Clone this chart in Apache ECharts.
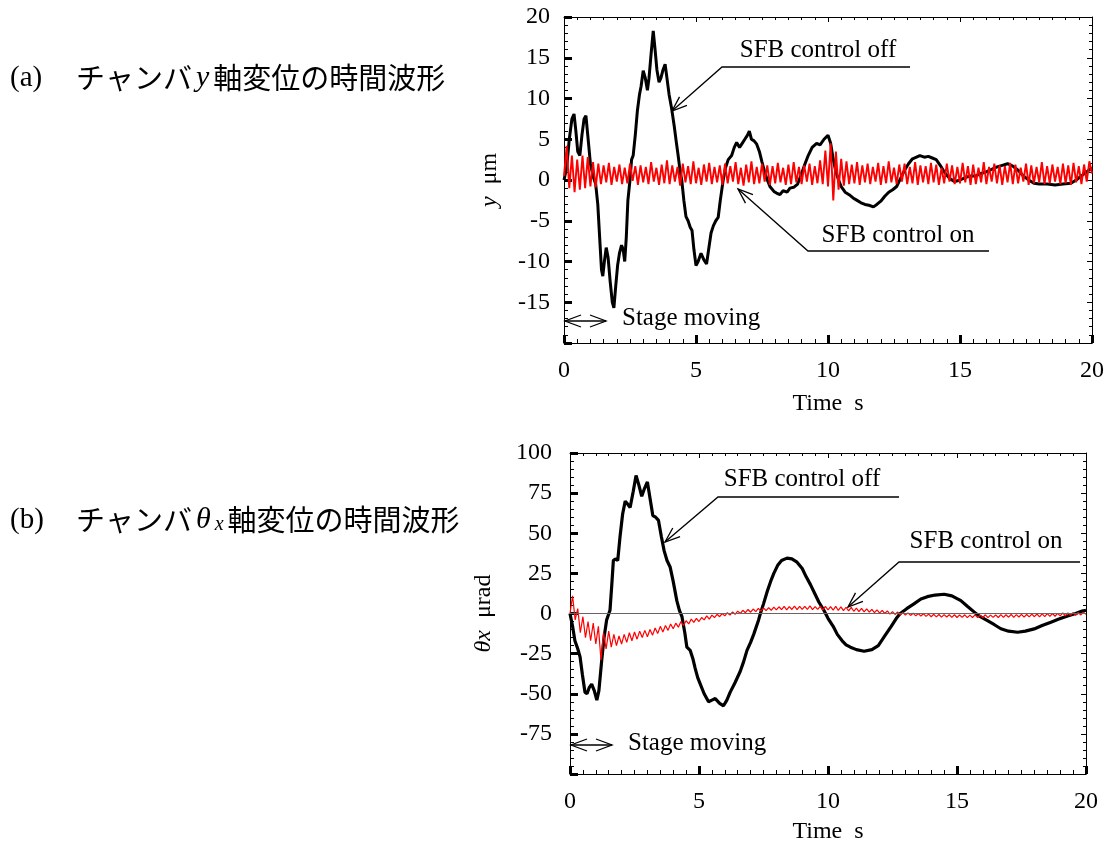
<!DOCTYPE html>
<html>
<head>
<meta charset="utf-8">
<script src="https://cdn.jsdelivr.net/npm/echarts@6/dist/echarts.min.js"></script>
<style>
  html, body { margin: 0; padding: 0; background: #fff; }
  #chart { width: 1104px; height: 844px; }
</style>
</head>
<body>
<div id="chart"></div>
<script>
// ---------- (a) chamber y displacement, µm ----------
// SFB control off: sample times (s) and displacement (µm)
const yOffT = [0.00,0.10,0.20,0.30,0.38,0.45,0.52,0.60,0.68,0.76,0.83,0.90,1.00,1.10,1.20,1.28,1.35,1.42,1.47,1.53,
  1.60,1.67,1.75,1.83,1.89,1.96,2.03,2.10,2.18,2.24,2.30,2.36,2.42,2.50,2.56,2.62,2.70,2.78,2.86,2.92,
  3.00,3.08,3.16,3.22,3.30,3.38,3.45,3.52,3.60,3.67,3.75,3.83,3.90,3.98,4.08,4.18,4.26,4.34,4.40,4.46,
  4.54,4.62,4.70,4.78,4.85,4.92,5.00,5.08,5.19,5.30,5.40,5.48,5.57,5.66,5.75,5.84,5.92,6.03,6.12,6.22,
  6.35,6.45,6.54,6.65,6.75,6.85,6.95,7.02,7.10,7.20,7.30,7.40,7.50,7.60,7.70,7.80,7.95,8.05,8.18,8.30,
  8.45,8.56,8.70,8.85,9.00,9.13,9.25,9.40,9.57,9.70,9.85,10.00,10.10,10.20,10.30,10.40,10.50,10.65,10.80,10.95,
  11.10,11.25,11.40,11.55,11.72,11.85,12.00,12.15,12.30,12.45,12.60,12.75,12.90,13.05,13.20,13.35,13.48,13.65,13.80,13.95,
  14.10,14.25,14.40,14.60,14.80,15.00,15.20,15.40,15.60,15.80,16.00,16.20,16.40,16.60,16.80,17.00,17.20,17.40,17.60,17.80,
  18.00,18.30,18.60,18.90,19.20,19.40,19.60,19.80,20.00];
const yOffV = [0.0,1.5,5.0,7.5,8.1,6.0,3.5,3.0,5.5,7.5,7.9,5.5,2.0,0.5,-0.5,-3.0,-7.0,-11.0,-11.8,-10.0,
  -8.3,-9.5,-12.5,-15.0,-15.7,-13.0,-10.5,-9.0,-8.0,-8.5,-10.0,-7.0,-2.5,0.0,2.5,3.0,5.5,8.5,10.5,11.5,
  13.4,12.5,11.0,12.5,15.5,18.3,16.0,13.5,12.0,12.5,13.5,14.2,12.5,10.5,8.7,6.5,4.5,2.6,1.0,0.0,
  -2.5,-4.5,-5.0,-5.8,-6.2,-8.5,-10.5,-10.0,-9.0,-9.8,-10.3,-8.5,-6.5,-5.6,-5.0,-4.6,-2.5,0.0,1.5,2.5,
  3.0,4.0,4.6,4.0,4.5,5.0,5.5,6.0,5.0,4.8,4.4,3.5,2.2,1.0,0.0,-0.8,-1.4,-1.6,-1.8,-1.3,
  -1.5,-1.0,-0.9,-0.5,0.8,2.0,3.0,4.0,4.5,4.3,5.0,5.5,4.5,2.5,1.0,0.0,-0.8,-1.5,-1.8,-2.2,
  -2.5,-2.8,-3.0,-3.1,-3.3,-3.0,-2.6,-2.0,-1.5,-1.2,-0.8,0.2,1.2,2.0,2.6,2.8,3.0,2.8,2.9,2.7,
  2.5,1.8,1.0,0.2,-0.2,0.0,0.3,0.5,0.5,0.8,1.0,1.3,1.6,1.8,2.0,1.7,1.2,0.5,0.0,-0.4,
  -0.5,-0.5,-0.6,-0.5,-0.4,0.0,0.5,1.0,1.5];

// SFB control on: one value every 0.1 s from 0 to 20 s (µm)
const yOnStep = 0.1;
const yOnV = [
  0.5, 4.2, -1.0, 3.0, -1.5, 2.5, -1.2, 3.0, -1.0, 2.8,
  -0.8, 2.2, -0.9, 2.0, -0.5, 1.8, -0.3, 2.1, -0.6, 1.6,
  -0.2, 1.9, -0.5, 1.5, -0.4, 2.0, -0.1, 1.7, -0.6, 1.8,
  -0.3, 1.6, -0.5, 2.2, -0.2, 1.5, -0.6, 1.9, -0.4, 2.4,
  -0.5, 1.8, -0.2, 1.6, -0.7, 2.0, -0.3, 1.7, -0.5, 2.3,
  -0.4, 1.5, -0.6, 1.9, -0.2, 2.1, -0.5, 1.6, -0.3, 1.8,
  -0.6, 2.0, -0.4, 1.7, -0.2, 2.2, -0.5, 1.5, -0.7, 1.9,
  -0.3, 2.3, -0.5, 1.6, -0.4, 2.0, -0.2, 1.8, -0.6, 1.7,
  -0.4, 2.1, -0.3, 1.5, -0.6, 1.9, -0.5, 2.2, -0.3, 1.6,
  -0.5, 1.8, -0.2, 2.0, -0.6, 1.7, -0.4, 2.4, -0.5, 3.6,
  -0.8, 4.5, -2.5, 3.5, -1.2, 2.6, -0.7, 2.3, -0.5, 1.9,
  -0.4, 2.2, -0.6, 1.8, -0.3, 2.0, -0.5, 1.6, -0.2, 2.1,
  -0.6, 1.7, -0.4, 2.3, -0.3, 1.5, -0.5, 1.9, -0.2, 2.0,
  -0.5, 1.6, -0.4, 2.2, -0.6, 1.8, -0.3, 1.7, -0.5, 2.1,
  -0.3, 1.9, -0.6, 1.5, -0.4, 2.0, -0.2, 1.8, -0.5, 1.6,
  -0.4, 2.1, -0.3, 1.7, -0.6, 1.9, -0.5, 1.5, -0.3, 2.2,
  -0.5, 1.6, -0.2, 2.0, -0.4, 1.8, -0.6, 1.7, -0.3, 2.1,
  -0.5, 1.9, -0.4, 1.5, -0.2, 2.0, -0.6, 1.8, -0.4, 1.6,
  -0.3, 2.2, -0.5, 1.7, -0.4, 1.9, -0.2, 1.6, -0.5, 2.0,
  -0.4, 1.8, -0.6, 2.1, -0.3, 1.7, -0.5, 1.9, -0.2, 2.3,
  0.8
];

// ---------- (b) chamber θx displacement, µrad ----------
// SFB control off: sample times (s) and angle (µrad)
const thOffT = [0.00,0.10,0.19,0.30,0.39,0.48,0.58,0.66,0.75,0.84,0.94,1.04,1.12,1.23,1.32,1.42,1.55,1.62,1.68,1.76,
  1.85,1.94,2.04,2.14,2.24,2.33,2.45,2.56,2.67,2.78,2.89,3.00,3.10,3.21,3.32,3.43,3.54,3.65,3.76,3.88,
  4.00,4.14,4.24,4.34,4.45,4.53,4.66,4.76,4.85,4.95,5.05,5.20,5.37,5.50,5.63,5.80,5.95,6.08,6.21,6.40,
  6.60,6.73,6.86,7.00,7.12,7.31,7.38,7.50,7.65,7.80,7.90,8.05,8.20,8.41,8.60,8.80,9.00,9.15,9.32,9.50,
  9.65,9.84,10.00,10.20,10.36,10.55,10.70,10.87,11.10,11.40,11.70,11.95,12.20,12.45,12.65,12.80,13.05,13.33,13.60,13.85,
  14.15,14.50,14.80,15.15,15.40,15.66,15.90,16.18,16.45,16.70,17.00,17.35,17.65,17.99,18.30,18.64,18.95,19.29,19.60,19.85,
  20.00];
const thOffV = [0,-8,-17,-22,-27,-38,-49,-50,-46,-44,-48,-54,-48,-29,-15,-4,2,18,33,34,
  33,48,62,70,68,66,76,86,80,73,78,82,72,61,60,58,48,39,33,29,
  20,8,2,-2,-12,-21,-23,-28,-34,-40,-44,-50,-55,-54,-53,-56,-57.5,-54,-49,-43,
  -36,-30,-23,-18,-13,-4,0,6,14,21,25,30,33,34.5,34,32,28,23,18,12,
  7,2,-3,-8,-13,-17,-19.5,-21,-22.5,-23.5,-22.5,-20,-14,-8,-3,0,3,6,9,10.5,
  11.5,12,11,8,4.5,1,-2,-4.5,-7,-9.5,-11,-11.7,-11,-9.6,-7.5,-5.4,-3.5,-1.5,0,1.5,
  2];

// SFB control on: one value every 0.1 s from 0 to 20 s (µrad)
const thOnStep = 0.1;
const thOnV = [
  0, 11, -4, 3, -12, -2, -15, -5, -17, -6,
  -19, -8, -29, -12, -22, -11, -21, -13, -20, -14,
  -19, -13, -18, -12, -17, -11.5, -16, -11, -15, -10.5,
  -14.5, -10, -13.5, -9, -12.5, -8, -11.5, -7.5, -10.5, -6.5,
  -9.5, -6, -8.5, -5, -7.5, -4.5, -6.5, -3.5, -5.5, -3,
  -5, -2.5, -4, -1.5, -3.5, -1, -2.5, -0.5, -2, 0,
  -1.5, 0.5, -1, 1, -0.5, 1.5, 0, 2, 0.5, 2.5,
  0.8, 2.8, 1.2, 3.2, 1.5, 3.5, 1.8, 3.6, 2, 4,
  2.2, 4.2, 2.4, 4.5, 2.3, 4.3, 2.5, 4.6, 2.4, 4.4,
  2.6, 4.5, 2.5, 4.7, 2.4, 4.3, 2.6, 4.5, 2.3, 4.4,
  2.2, 4.3, 2.1, 4.4, 1.9, 4.1, 1.8, 3.9, 1.6, 3.8,
  1.4, 3.4, 1.2, 3.2, 1.0, 2.9, 0.8, 2.6, 0.5, 2.3,
  0.2, 1.9, 0, 1.6, -0.4, 1.2, -0.6, 0.9, -0.8, 0.6,
  -1, 0.4, -1.2, 0.2, -1.5, 0, -1.6, -0.2, -1.8, -0.4,
  -2, -0.5, -2.1, -0.6, -2.3, -0.7, -2.2, -0.8, -2.4, -0.8,
  -2.5, -0.9, -2.4, -0.8, -2.6, -1, -2.5, -0.9, -2.6, -1,
  -2.5, -0.8, -2.6, -1, -2.4, -0.9, -2.5, -0.7, -2.4, -0.8,
  -2.3, -0.6, -2.4, -0.7, -2.2, -0.5, -2.3, -0.6, -2.1, -0.4,
  -2, -0.3, -2.1, -0.2, -1.9, -0.1, -1.8, 0, -1.7, 0.1,
  -1.5, 0.3, -1.4, 0.4, -1.2, 0.5, -1.1, 0.6, -0.9, 0.8,
  -0.5
];

// axis ranges and tick steps
const timeRange = [0, 20], timeStep = 5;
const yRange = [-20, 20], yStep = 5;
const thRange = [-100, 100], thStep = 25;

// ---------- chart ----------
const SERIF = '"Liberation Serif", "Times New Roman", serif';
const JP = '"Noto Sans CJK JP", sans-serif';

const pairs = (ts, vs) => ts.map((t, i) => [t, vs[i]]);
const sampled = (vs, dt) => vs.map((v, i) => [Math.round(i * dt * 100) / 100, v]);

function mainX(grid, gap) {
  return {
    type: 'value', gridIndex: grid, position: 'bottom',
    min: timeRange[0], max: timeRange[1], interval: timeStep,
    axisLine: { show: true, onZero: false, lineStyle: { color: '#000', width: 1 } },
    axisTick: { show: true, inside: true, length: 8, lineStyle: { color: '#000', width: 3 } },
    minorTick: { show: true, splitNumber: 10, length: 4, lineStyle: { color: '#000', width: 1 } },
    axisLabel: { margin: 16, fontFamily: SERIF, fontSize: 24, color: '#000' },
    splitLine: { show: false },
    name: 'Time  s', nameLocation: 'middle', nameGap: gap,
    nameTextStyle: { fontFamily: SERIF, fontSize: 24, color: '#000' }
  };
}
function frameX(grid) {
  return {
    type: 'value', gridIndex: grid, position: 'top',
    min: timeRange[0], max: timeRange[1], interval: timeStep,
    axisLine: { show: true, onZero: false, lineStyle: { color: '#000', width: 1 } },
    axisTick: { show: true, inside: true, length: 5, lineStyle: { color: '#000', width: 1 } },
    minorTick: { show: true, splitNumber: 10, length: 3, lineStyle: { color: '#000', width: 1 } },
    axisLabel: { show: false }, splitLine: { show: false }
  };
}
function mainY(grid, range, step, name, gap, margin) {
  return {
    type: 'value', gridIndex: grid, position: 'left',
    min: range[0], max: range[1], interval: step,
    axisLine: { show: true, onZero: false, lineStyle: { color: '#000', width: 1 } },
    axisTick: { show: true, inside: true, length: 8, lineStyle: { color: '#000', width: 3 } },
    minorTick: { show: true, splitNumber: 5, length: 4, lineStyle: { color: '#000', width: 1 } },
    axisLabel: {
      margin: margin, fontFamily: SERIF, fontSize: 24, color: '#000',
      formatter: v => (v === range[0] ? '' : String(v))
    },
    splitLine: { show: false },
    name: name, nameLocation: 'middle', nameGap: gap, nameRotate: 90,
    nameTextStyle: {
      fontFamily: SERIF, fontSize: 24, color: '#000',
      rich: { i: { fontFamily: SERIF, fontSize: 24, fontStyle: 'italic', color: '#000' } }
    }
  };
}
function frameY(grid, range, step) {
  return {
    type: 'value', gridIndex: grid, position: 'right',
    min: range[0], max: range[1], interval: step,
    axisLine: { show: true, onZero: false, lineStyle: { color: '#000', width: 1 } },
    axisTick: { show: true, inside: true, length: 5, lineStyle: { color: '#000', width: 1 } },
    minorTick: { show: true, splitNumber: 5, length: 3, lineStyle: { color: '#000', width: 1 } },
    axisLabel: { show: false }, splitLine: { show: false }
  };
}

// leader line with an open arrow head at the tip
function leader(end, elbow, tip, len, spread) {
  const a = Math.atan2(elbow[1] - tip[1], elbow[0] - tip[0]);
  const h1 = [tip[0] + len * Math.cos(a + spread), tip[1] + len * Math.sin(a + spread)];
  const h2 = [tip[0] + len * Math.cos(a - spread), tip[1] + len * Math.sin(a - spread)];
  const st = { stroke: '#000', lineWidth: 1.3, fill: null };
  return [
    { type: 'polyline', silent: true, shape: { points: [end, elbow, tip] }, style: st },
    { type: 'polyline', silent: true, shape: { points: [h1, tip, h2] }, style: st }
  ];
}
function doubleArrow(x1, x2, y) {
  const st = { stroke: '#000', lineWidth: 1.3, fill: null };
  const L = 16, S = 6;
  return [
    { type: 'polyline', silent: true, shape: { points: [[x1, y], [x2, y]] }, style: st },
    { type: 'polyline', silent: true, shape: { points: [[x1 + L, y - S], [x1, y], [x1 + L, y + S]] }, style: st },
    { type: 'polyline', silent: true, shape: { points: [[x2 - L, y - S], [x2, y], [x2 - L, y + S]] }, style: st }
  ];
}
function label(text, x, y, align) {
  return {
    type: 'text', silent: true, x: x, y: y,
    style: { text: text, font: '25px ' + SERIF, fill: '#000', align: align || 'center', verticalAlign: 'middle' }
  };
}

const titleRich = {
  j: { fontFamily: JP, fontSize: 29, color: '#000' },
  i: { fontFamily: SERIF, fontSize: 30, fontStyle: 'italic', color: '#000', padding: [0, 4, 0, 4] },
  s: { fontFamily: SERIF, fontSize: 20, fontStyle: 'italic', color: '#000', verticalAlign: 'bottom', padding: [0, 4, 0, 0] }
};

const graphics = [
  { type: 'text', silent: true, x: 10, y: 78, style: { text: '(a)', font: '29px ' + SERIF, fill: '#000', verticalAlign: 'middle' } },
  { type: 'text', silent: true, x: 76, y: 78, style: { text: '{j|チャンバ}{i|y}{j|軸変位の時間波形}', rich: titleRich, verticalAlign: 'middle' } },
  { type: 'text', silent: true, x: 10, y: 520, style: { text: '(b)', font: '29px ' + SERIF, fill: '#000', verticalAlign: 'middle' } },
  { type: 'text', silent: true, x: 76, y: 520, style: { text: '{j|チャンバ}{i|θ}{s|x}{j|軸変位の時間波形}', rich: titleRich, verticalAlign: 'middle' } },

  label('SFB control off', 818, 50),
  ...leader([910, 67], [722, 67], [672, 111], 16, 0.36),
  label('SFB control on', 898, 235),
  ...leader([989, 251], [808, 251], [738, 189], 16, 0.36),
  ...doubleArrow(565, 606, 321),
  label('Stage moving', 622, 318, 'left'),

  label('SFB control off', 802, 479),
  ...leader([899, 497], [718, 497], [665, 542], 16, 0.36),
  label('SFB control on', 986, 541),
  ...leader([1080, 562], [899, 562], [848, 607], 16, 0.36),
  ...doubleArrow(571, 612, 745),
  label('Stage moving', 628, 743, 'left')
];

const chart = echarts.init(document.getElementById('chart'), null, { renderer: 'canvas' });
chart.setOption({
  animation: false,
  backgroundColor: '#fff',
  grid: [
    { left: 564, top: 17, width: 528, height: 326, containLabel: false, outerBoundsMode: 'none' },
    { left: 570, top: 453, width: 516, height: 321, containLabel: false, outerBoundsMode: 'none' }
  ],
  xAxis: [mainX(0, 49), frameX(0), mainX(1, 46), frameX(1)],
  yAxis: [
    mainY(0, yRange, yStep, '{i|y}  μm', 62, 14),
    frameY(0, yRange, yStep),
    mainY(1, thRange, thStep, '{i|θx}  μrad', 74, 18),
    frameY(1, thRange, thStep)
  ],
  series: [
    {
      name: 'y SFB control off', type: 'line', xAxisIndex: 0, yAxisIndex: 0,
      data: pairs(yOffT, yOffV), symbol: 'none', lineStyle: { color: '#000', width: 3 }, z: 2
    },
    {
      name: 'y SFB control on', type: 'line', xAxisIndex: 0, yAxisIndex: 0,
      data: sampled(yOnV, yOnStep), symbol: 'none', lineStyle: { color: '#ff0000', width: 1.9 }, z: 3
    },
    {
      name: 'θx SFB control off', type: 'line', xAxisIndex: 2, yAxisIndex: 2,
      data: pairs(thOffT, thOffV), symbol: 'none', lineStyle: { color: '#000', width: 3.2 }, z: 2,
      markLine: {
        silent: true, symbol: ['none', 'none'], label: { show: false },
        lineStyle: { color: '#666', width: 1, type: 'solid' },
        data: [{ yAxis: 0 }]
      }
    },
    {
      name: 'θx SFB control on', type: 'line', xAxisIndex: 2, yAxisIndex: 2,
      data: sampled(thOnV, thOnStep), symbol: 'none', lineStyle: { color: '#ff0000', width: 1.2 }, z: 3
    }
  ],
  graphic: graphics
});
</script>
</body>
</html>
